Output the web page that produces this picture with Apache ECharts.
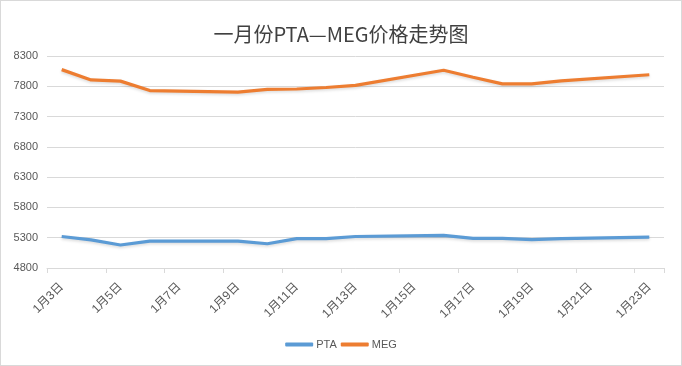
<!DOCTYPE html>
<html>
<head>
<meta charset="utf-8">
<script src="https://cdn.jsdelivr.net/npm/echarts@6/dist/echarts.min.js"></script>
<style>
html,body{margin:0;padding:0;background:#fff;}
#c{width:682px;height:366px;box-sizing:border-box;border:1px solid #d9d9d9;}
</style>
</head>
<body>
<div id="c"></div>
<script>
const titleText = '一月份PTA—MEG价格走势图';
const categories = ['1月3日','1月4日','1月5日','1月6日','1月7日','1月8日','1月9日','1月10日','1月11日','1月12日','1月13日','1月14日','1月15日','1月16日','1月17日','1月18日','1月19日','1月20日','1月21日','1月22日','1月23日'];
const ptaValues = [5320,5265,5180,5245,null,null,5245,5200,5285,5285,5320,null,null,5340,5290,5290,5270,5285,null,null,5310];
const megValues = [8075,7905,7885,7730,null,null,7705,7750,7755,7780,7815,null,null,8065,7950,7840,7840,7890,null,null,7990];
const yTicks = {min:4800, max:8300, interval:500};

const chart = echarts.init(document.getElementById('c'), null, {renderer:'canvas'});
const font = '"Liberation Sans", "Noto Sans CJK SC", sans-serif';
const titleFont = '"Noto Sans CJK SC", sans-serif';
chart.setOption({
  animation:false,
  title:{text:titleText,left:'center',top:18,textStyle:{fontFamily:titleFont,fontSize:20,fontWeight:'normal',color:'#404040'}},
  legend:{bottom:10,left:'center',itemWidth:28,itemHeight:4,itemGap:4,icon:'roundRect',
    textStyle:{fontFamily:font,fontSize:11,color:'#595959',padding:[0,0,0,-2]},
    data:['PTA','MEG']},
  grid:{left:46,right:17,top:55,bottom:97,containLabel:false},
  xAxis:{type:'category',data:categories,boundaryGap:true,
    axisLine:{lineStyle:{color:'#d9d9d9'}},
    axisTick:{show:true,interval:1,length:5,lineStyle:{color:'#d9d9d9'}},
    axisLabel:{interval:1,rotate:45,margin:17,fontFamily:font,fontSize:12,color:'#595959'}},
  yAxis:{type:'value',min:yTicks.min,max:yTicks.max,interval:yTicks.interval,
    axisLine:{show:false},axisTick:{show:false},
    splitLine:{lineStyle:{color:'#d9d9d9'}},
    axisLabel:{margin:9,fontFamily:font,fontSize:11,color:'#595959',formatter:function(v){return String(v);}}},
  series:[
    {name:'PTA',type:'line',data:ptaValues,connectNulls:true,showSymbol:false,symbol:'none',
      lineStyle:{width:3.2,color:'#5B9BD5',shadowBlur:3,shadowColor:'rgba(0,0,0,0.15)',shadowOffsetY:1.5},itemStyle:{color:'#5B9BD5'}},
    {name:'MEG',type:'line',data:megValues,connectNulls:true,showSymbol:false,symbol:'none',
      lineStyle:{width:3.2,color:'#ED7D31',shadowBlur:3,shadowColor:'rgba(0,0,0,0.15)',shadowOffsetY:1.5},itemStyle:{color:'#ED7D31'}}
  ]
});
</script>
</body>
</html>
